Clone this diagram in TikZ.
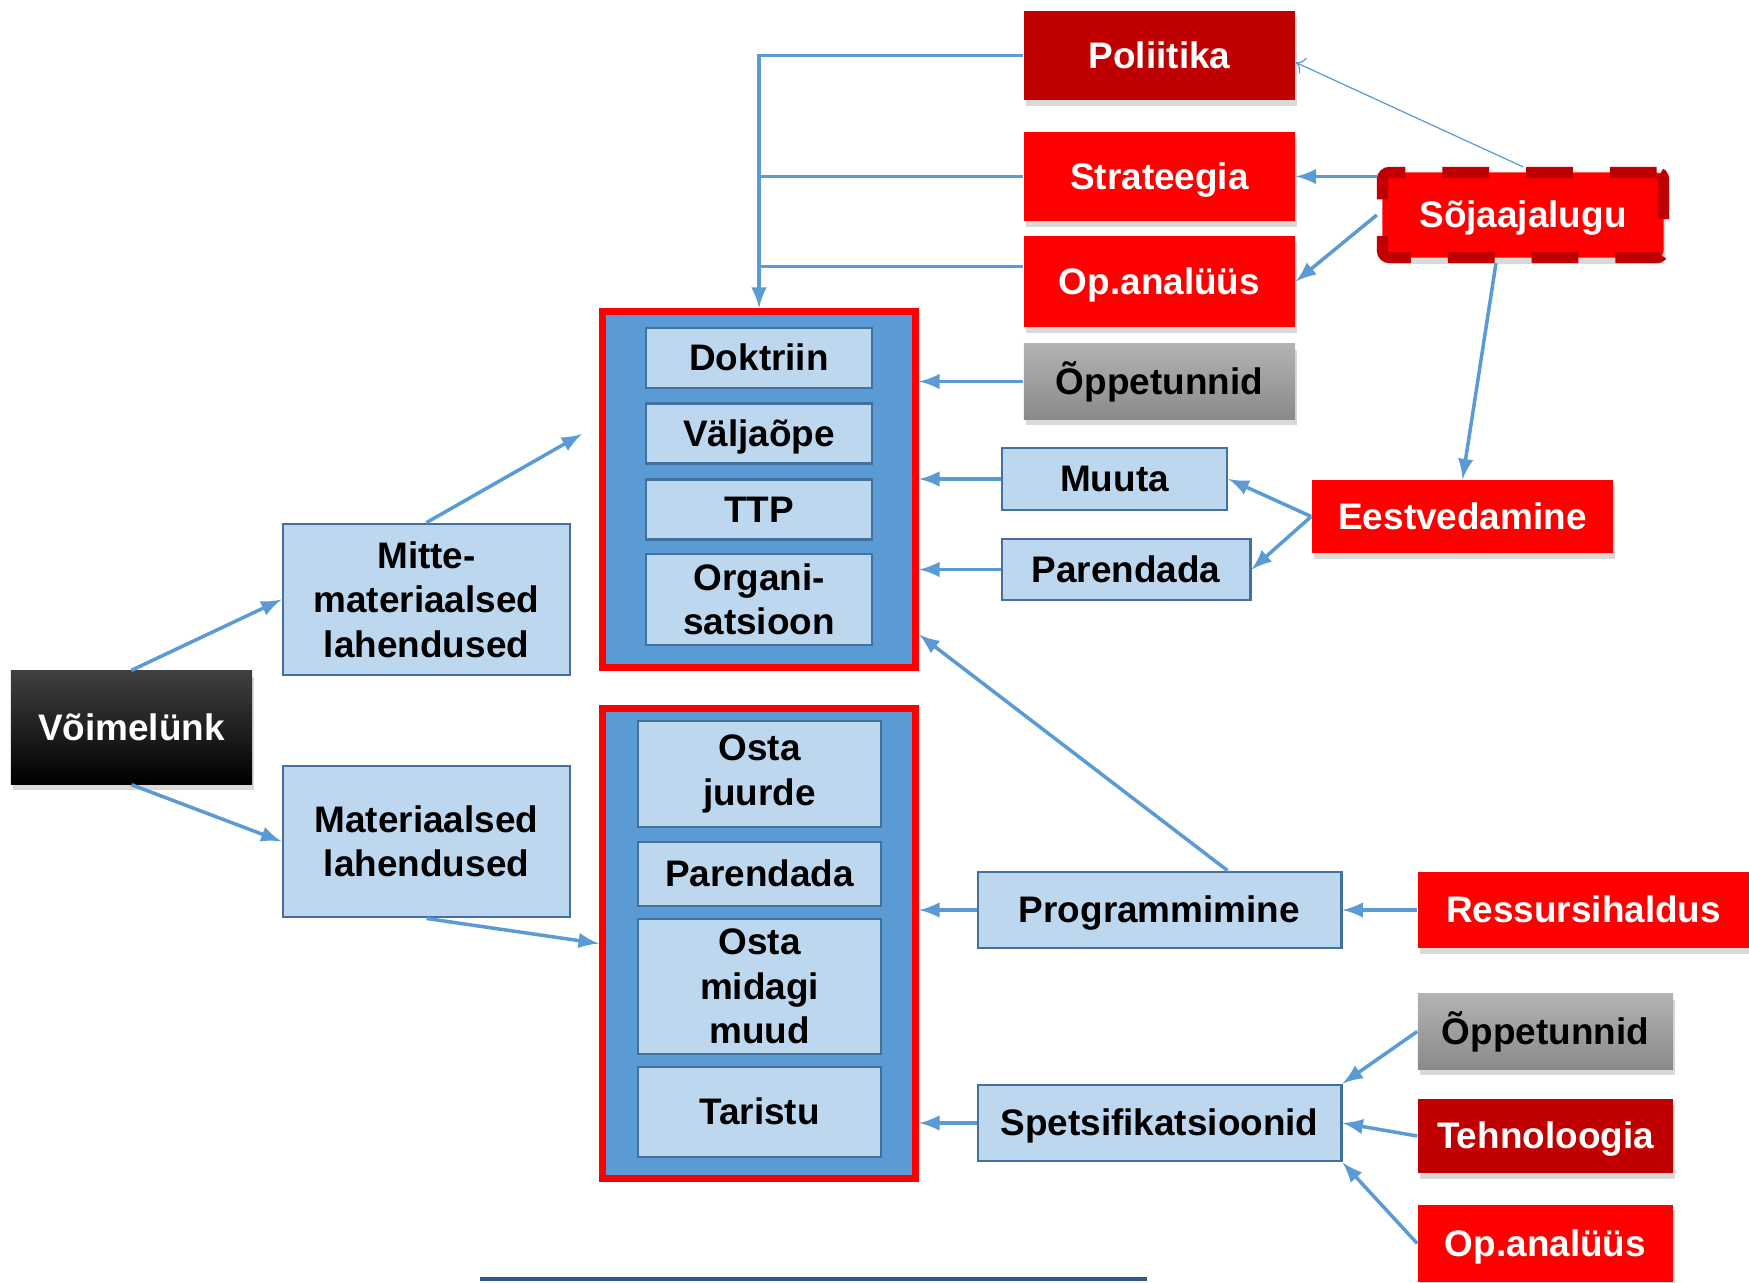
\documentclass[tikz,border=0pt]{standalone}
\usepackage{fontspec}
\setmainfont{Liberation Sans}
\usetikzlibrary{shapes}
\usetikzlibrary{positioning}
\usetikzlibrary{arrows.meta}
\usetikzlibrary{shadows}
\definecolor{pptred}{HTML}{FF0000}
\definecolor{pptdred}{HTML}{C00000}
\definecolor{pptblue}{HTML}{5B9BD5}
\definecolor{pptlblue}{HTML}{BDD7EE}
\definecolor{pptborder}{HTML}{41719C}
\definecolor{pptnavy}{HTML}{2F5C8F}
\tikzset{
    mybox/.style = {rectangle, inner sep=0pt, align=center, text height=9.5pt, text depth=2.2pt, font=\bfseries\fontsize{10.5}{12.6}\selectfont},
    myshadow/.style = {drop shadow={shadow xshift=0.6pt, shadow yshift=-1.8pt, opacity=0.3}},
    boxb/.style = {mybox, draw=pptborder, line width=0.8pt, fill=pptlblue, text=black},
    boxbm/.style = {boxb, text height=, text depth=}, % multi-line
    boxr/.style = {mybox, myshadow, fill=pptred, text=white},
    boxdr/.style = {mybox, myshadow, fill=pptdred, text=white},
    boxg/.style = {mybox, myshadow, top color=black!30, bottom color=black!46, text=black},
    boxk/.style = {mybox, myshadow, top color=black!75, middle color=black, bottom color=black, text=white},
    boxrd/.style = {boxr, draw=pptdred, line width=3.2pt, dash pattern=on 13.3pt off 10.5pt, rounded corners=2pt},
    cont/.style = {rectangle, draw=pptred, line width=2pt, fill=pptblue, minimum width=3.13cm},
    edgeb/.style = {-latex, line width=1pt, pptblue},
    edget/.style = {->, line width=0.35pt, pptblue},
    lineb/.style = {line width=1pt, pptblue}
}
\begin{document}
\begin{tikzpicture}[x=0.01cm, y=-0.01cm]
\useasboundingbox (0,0) rectangle (1749,1282);
%
\node[boxdr, minimum width=2.71cm, minimum height=0.89cm] at (1159.5,55.5) (pol) {Poliitika};
\node[boxr, minimum width=2.71cm, minimum height=0.89cm] at (1159.5,176.5) (strat) {Strateegia};
\node[boxr, minimum width=2.71cm, minimum height=0.91cm] at (1159.5,281.5) (opan) {Op.analüüs};
\node[boxg, minimum width=2.71cm, minimum height=0.75cm] at (1159.5,381.5) (oppe) {Õppetunnid};
\node[boxrd, minimum width=2.81cm, minimum height=0.85cm] at (1523,215) (soja) {Sõjaajalugu};
\node[boxr, minimum width=3.01cm, minimum height=0.73cm] at (1462.5,516.5) (eest) {Eestvedamine};
\node[boxb, minimum width=2.25cm, minimum height=0.62cm] at (1114.5,479) (muuta) {Muuta};
\node[boxb, minimum width=2.48cm, minimum height=0.61cm] at (1126,569.5) (pared) {Parendada};
%
\node[cont, minimum height=3.56cm] at (759,489.5) (cont1) {};
\node[boxb, minimum width=2.26cm, minimum height=0.60cm] at (759,358) (dokt) {Doktriin};
\node[boxb, minimum width=2.26cm, minimum height=0.60cm] at (759,433.5) (valj) {Väljaõpe};
\node[boxb, minimum width=2.26cm, minimum height=0.60cm] at (759,509.5) (ttp) {TTP};
\node[boxbm, minimum width=2.26cm, minimum height=0.91cm] at (759,599.5) (org) {Organi-\\satsioon};
%
\node[cont, minimum height=4.70cm] at (759,943.5) (cont2) {};
\node[boxbm, minimum width=2.43cm, minimum height=1.06cm] at (759.5,774) (ostaj) {Osta\\juurde};
\node[boxb, minimum width=2.43cm, minimum height=0.64cm] at (759.5,874) (pared2) {Parendada};
\node[boxbm, minimum width=2.43cm, minimum height=1.35cm] at (759.5,986.5) (ostam) {Osta\\midagi\\muud};
\node[boxb, minimum width=2.43cm, minimum height=0.90cm] at (759.5,1112) (tar) {Taristu};
%
\node[boxbm, minimum width=2.87cm, minimum height=1.51cm] at (426.5,599.5) (mitte) {Mitte-\\materiaalsed\\lahendused};
\node[boxbm, minimum width=2.87cm, minimum height=1.51cm] at (426.5,841.5) (mater) {Materiaalsed\\lahendused};
\node[boxk, minimum width=2.41cm, minimum height=1.13cm] at (131.5,727.5) (voime) {Võimelünk};
%
\node[boxb, minimum width=3.63cm, minimum height=0.76cm] at (1159.5,910) (prog) {Programmimine};
\node[boxb, minimum width=3.63cm, minimum height=0.76cm] at (1159.5,1123) (spets) {Spetsifikatsioonid};
\node[boxr, minimum width=3.31cm, minimum height=0.76cm] at (1583.5,910) (ress) {Ressursihaldus};
\node[boxg, minimum width=2.55cm, minimum height=0.75cm] at (1545.5,1031.5) (oppe2) {Õppetunnid};
\node[boxdr, minimum width=2.55cm, minimum height=0.74cm] at (1545.5,1136) (tehn) {Tehnoloogia};
\node[boxr, minimum width=2.55cm, minimum height=0.77cm] at (1545.5,1243.5) (opan2) {Op.analüüs};
%
\coordinate (opanl) at ([yshift=0.15cm]opan.west);
\coordinate (c1in) at (582,434);
\coordinate (linea) at (480,1279);
\coordinate (lineb) at (1147,1279);
%
\draw[edgeb] (pol.west) -| (cont1.north);
\draw[lineb] (strat.west) -- (strat.west -| cont1.north);
\draw[lineb] (opanl) -- (opanl -| cont1.north);
\draw[edget] (soja.north) -- ([yshift=-0.07cm]pol.east);
\draw[edgeb] (soja.west |- strat.east) -- (strat.east);
\draw[edgeb] (soja.west) -- (opan.east);
\draw[edgeb] ([xshift=-0.27cm]soja.south) -- (eest.north);
\draw[edgeb] (oppe.west) -- (oppe.west -| cont1.east);
\draw[edgeb] (muuta.west) -- (muuta.west -| cont1.east);
\draw[edgeb] (pared.west) -- (pared.west -| cont1.east);
\draw[edgeb] (eest.west) -- (muuta.east);
\draw[edgeb] (eest.west) -- (pared.east);
\draw[edgeb] ([xshift=0.68cm]prog.north) -- ([yshift=-1.45cm]cont1.east);
\draw[edgeb] (prog.west) -- (prog.west -| cont2.east);
\draw[edgeb] (ress.west) -- (prog.east);
\draw[edgeb] (spets.west) -- (spets.west -| cont2.east);
\draw[edgeb] (oppe2.west) -- (spets.north east);
\draw[edgeb] (tehn.west) -- (spets.east);
\draw[edgeb] (opan2.west) -- (spets.south east);
\draw[edgeb] (voime.north) -- (mitte.west);
\draw[edgeb] (mitte.north) -- (c1in);
\draw[edgeb] (voime.south) -- (mater.west);
\draw[edgeb] (mater.south) -- (cont2.west);
\draw[pptnavy, line width=1.2pt] (linea) -- (lineb);

\end{tikzpicture}
\end{document}
